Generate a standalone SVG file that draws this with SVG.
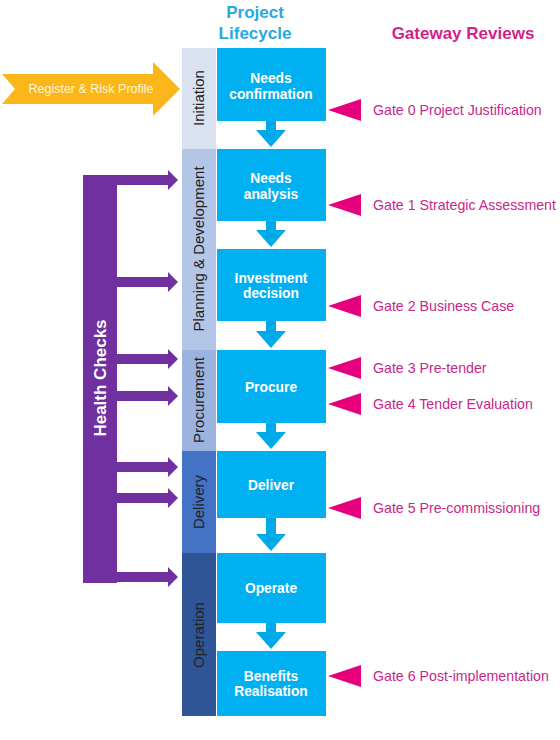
<svg xmlns="http://www.w3.org/2000/svg" width="560" height="740" viewBox="0 0 560 740">
<style>
.box{fill:#00b0f0}
.bt{fill:#fff;font-family:"Liberation Sans",Arial,sans-serif;font-weight:bold;font-size:13.8px;text-anchor:middle}
.pt{fill:#222;font-family:"Liberation Sans",Arial,sans-serif;font-size:15px;text-anchor:middle}
.gt{fill:#c8278a;font-family:"Liberation Sans",Arial,sans-serif;font-size:14.2px}
.gate{fill:#e6007e}
.down{fill:#00a9ea}
.hc{fill:#7030a0}
.ttl{font-family:"Liberation Sans",Arial,sans-serif;font-weight:bold;font-size:17px;text-anchor:middle}
</style>
<rect width="560" height="740" fill="#fff"/>
<!-- titles -->
<text class="ttl" x="255" y="18" fill="#27a9e1">Project</text>
<text class="ttl" x="255" y="39" fill="#27a9e1">Lifecycle</text>
<text class="ttl" x="463" y="39" fill="#d41f8a" font-size="18">Gateway Reviews</text>

<!-- phases -->
<g id="phase-initiation"><rect x="182" y="48" width="34" height="101" fill="#dae2f2"/><text class="pt" transform="translate(204,98) rotate(-90)">Initiation</text></g>
<g id="phase-planning"><rect x="182" y="149" width="34" height="201" fill="#b4c6e7"/><text class="pt" transform="translate(204,249) rotate(-90)">Planning &amp; Development</text></g>
<g id="phase-procurement"><rect x="182" y="350" width="34" height="101" fill="#9cb3df"/><text class="pt" transform="translate(204,400) rotate(-90)">Procurement</text></g>
<g id="phase-delivery"><rect x="182" y="451" width="34" height="102" fill="#4472c4"/><text class="pt" transform="translate(204,502) rotate(-90)">Delivery</text></g>
<g id="phase-operation"><rect x="182" y="553" width="34" height="163" fill="#2f5597"/><text class="pt" transform="translate(204,635) rotate(-90)">Operation</text></g>

<!-- boxes -->
<g id="needs-confirmation"><rect class="box" x="217" y="48" width="109" height="73"/><text class="bt" x="271" y="83">Needs</text><text class="bt" x="271" y="99">confirmation</text></g>
<g id="needs-analysis"><rect class="box" x="217" y="149" width="109" height="72"/><text class="bt" x="271" y="183">Needs</text><text class="bt" x="271" y="199">analysis</text></g>
<g id="investment-decision"><rect class="box" x="217" y="249" width="109" height="72"/><text class="bt" x="271" y="283">Investment</text><text class="bt" x="271" y="298">decision</text></g>
<g id="procure"><rect class="box" x="217" y="350" width="109" height="73"/><text class="bt" x="271" y="392">Procure</text></g>
<g id="deliver"><rect class="box" x="217" y="451" width="109" height="67"/><text class="bt" x="271" y="490">Deliver</text></g>
<g id="operate"><rect class="box" x="217" y="553" width="109" height="70"/><text class="bt" x="271" y="593">Operate</text></g>
<g id="benefits-realisation"><rect class="box" x="217" y="651" width="109" height="65"/><text class="bt" x="271" y="681">Benefits</text><text class="bt" x="271" y="696">Realisation</text></g>

<!-- register arrow -->
<g id="register-risk-profile">
<polygon points="2,74 153,74 153,62 180,89 153,116 153,104 2,104 15,89" fill="#fbb61a"/>
<text x="91" y="93" fill="#fff6dc" font-family="Liberation Sans,Arial,sans-serif" font-size="12.5" text-anchor="middle">Register &amp; Risk Profile</text>
</g>

<!-- health checks -->
<g id="health-checks">
<rect class="hc" x="83" y="175" width="34" height="408"/>
<text transform="translate(106,378) rotate(-90)" fill="#fff" font-family="Liberation Sans,Arial,sans-serif" font-weight="bold" font-size="17" text-anchor="middle">Health Checks</text>
</g>

<!-- connectors -->
<g id="connectors">
<g class="down">
<polygon points="266,121 276,121 276,130 286,130 271,147 256,130 266,130"/>
<polygon points="266,221 276,221 276,230 286,230 271,247 256,230 266,230"/>
<polygon points="266,321 276,321 276,331 286,331 271,348 256,331 266,331"/>
<polygon points="266,423 276,423 276,432 286,432 271,449 256,432 266,432"/>
<polygon points="266,518 276,518 276,534 286,534 271,551 256,534 266,534"/>
<polygon points="266,623 276,623 276,632 286,632 271,649 256,632 266,632"/>
</g>
<g class="hc">
<polygon points="116,175 168,175 168,170 178,180 168,190 168,185 116,185"/>
<polygon points="116,277 168,277 168,272 178,282 168,292 168,287 116,287"/>
<polygon points="116,354 168,354 168,349 178,359 168,369 168,364 116,364"/>
<polygon points="116,391 168,391 168,386 178,396 168,406 168,401 116,401"/>
<polygon points="116,462 168,462 168,457 178,467 168,477 168,472 116,472"/>
<polygon points="116,493 168,493 168,488 178,498 168,508 168,503 116,503"/>
<polygon points="116,572 168,572 168,567 178,577 168,587 168,582 116,582"/>
</g>
</g>

<!-- gates -->
<g id="gate-0"><polygon class="gate" points="328,110 361,99 361,121"/><text class="gt" x="373" y="115">Gate 0 Project Justification</text></g>
<g id="gate-1"><polygon class="gate" points="328,205 361,194 361,216"/><text class="gt" x="373" y="210">Gate 1 Strategic Assessment</text></g>
<g id="gate-2"><polygon class="gate" points="328,306 361,295 361,317"/><text class="gt" x="373" y="311">Gate 2 Business Case</text></g>
<g id="gate-3"><polygon class="gate" points="328,368 361,357 361,379"/><text class="gt" x="373" y="373">Gate 3 Pre-tender</text></g>
<g id="gate-4"><polygon class="gate" points="328,404 361,393 361,415"/><text class="gt" x="373" y="409">Gate 4 Tender Evaluation</text></g>
<g id="gate-5"><polygon class="gate" points="328,508 361,497 361,519"/><text class="gt" x="373" y="513">Gate 5 Pre-commissioning</text></g>
<g id="gate-6"><polygon class="gate" points="328,676 361,665 361,687"/><text class="gt" x="373" y="681">Gate 6 Post-implementation</text></g>
</svg>
